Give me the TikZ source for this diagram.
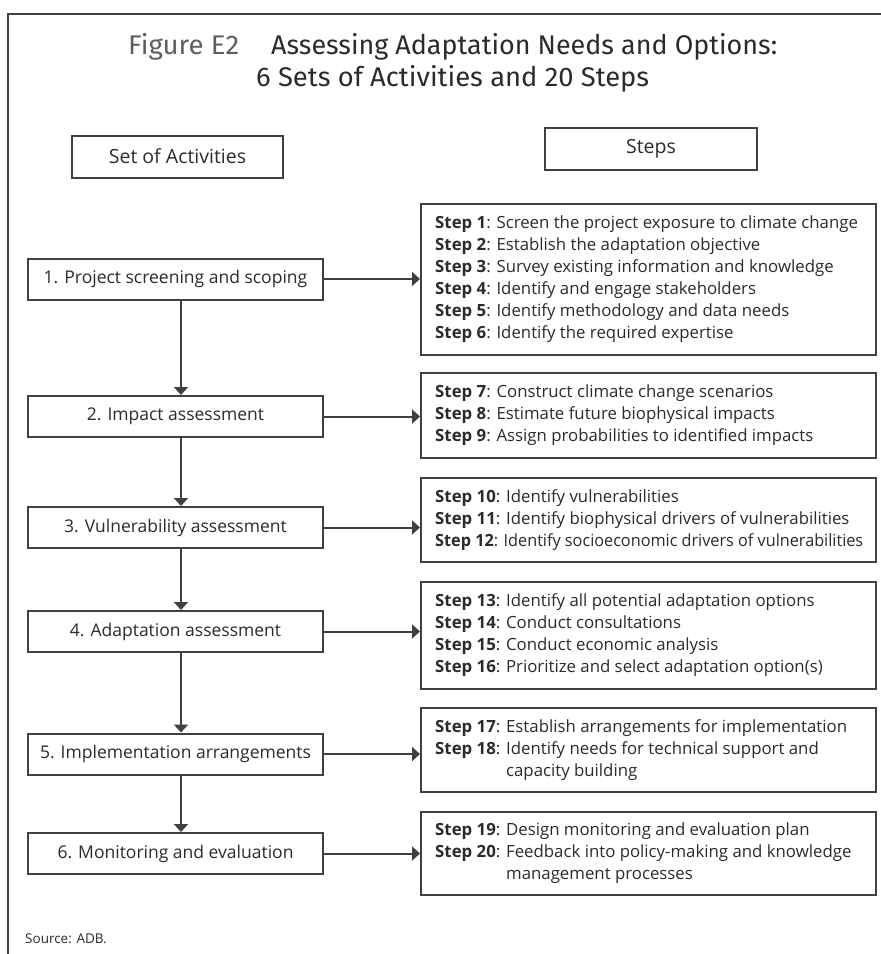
\documentclass[tikz,border=0pt]{standalone}
\usepackage{fontspec}
\usepackage{graphicx}
\setmainfont{Open Sans}
\newfontfamily\titlefont{Fira Sans}
\usetikzlibrary{arrows.meta}
\definecolor{ink}{HTML}{2B2B2B}
\definecolor{rulecol}{HTML}{404040}
\definecolor{figgray}{HTML}{5E5E5E}

\newcommand{\stp}[1]{\textbf{Step #1}:}

\begin{document}
\begin{tikzpicture}[x=1pt,y=-1pt,
  actbox/.style={draw=rulecol, line width=2pt, minimum width=295pt, minimum height=41pt,
    inner sep=0pt, text=ink, font=\fontsize{17.5}{22}\selectfont},
  headbox/.style={draw=rulecol, line width=2pt, minimum width=211pt, minimum height=42pt,
    inner sep=0pt, text=ink, font=\fontsize{19.5}{22}\selectfont},
  stepbox/.style={draw=rulecol, line width=2pt, minimum width=455pt, inner sep=0pt},
  steptext/.style={anchor=west, align=left, inner sep=0pt, text=ink,
    font=\fontsize{16.8}{22}\selectfont},
  flow/.style={draw=rulecol, line width=2pt, -{Triangle[length=8pt,width=14pt]}},
]
\useasboundingbox (0,0) rectangle (881,954);
\fill[white] (0,0) rectangle (881,954);

% outer frame (top and left rules)
\draw[rulecol, line width=2pt] (8,954) -- (8,14) -- (881,14);

% title
\node[anchor=base west, inner sep=0pt, text=figgray] (fig) at (128,54)
  {\resizebox{111pt}{\height}{\titlefont\fontsize{27}{30}\selectfont Figure E2}};
\node[anchor=base west, inner sep=0pt, text=ink] (title1) at (271,54)
  {\resizebox{506pt}{\height}{\titlefont\fontsize{27}{30}\selectfont Assessing Adaptation Needs and Options:}};
\node[anchor=base west, inner sep=0pt, text=ink] (title2) at (256,86)
  {\resizebox{393pt}{\height}{\titlefont\fontsize{27}{30}\selectfont 6 Sets of Activities and 20 Steps}};

% column headers
\node[headbox] (hact) at (177.5,156.5) {Set of Activities};
\node[headbox, minimum width=212pt] (hstep) at (651,148.5) {Steps};

% sets of activities
\node[actbox] (a1) at (175.5,279) {1. Project screening and scoping};
\node[actbox] (a2) at (175.5,416.5) {2. Impact assessment};
\node[actbox] (a3) at (175.5,527.5) {3. Vulnerability assessment};
\node[actbox] (a4) at (175.5,631.5) {4. Adaptation assessment};
\node[actbox] (a5) at (175.5,754) {5. Implementation arrangements};
\node[actbox] (a6) at (175.5,853.5) {6. Monitoring and evaluation};

% step boxes
\node[stepbox, minimum height=151pt] (s1) at (648.5,279.5) {};
\node[stepbox, minimum height=85pt] (s2) at (648.5,415.5) {};
\node[stepbox, minimum height=84pt] (s3) at (648.5,520) {};
\node[stepbox, minimum height=107pt] (s4) at (648.5,635.5) {};
\node[stepbox, minimum height=84pt] (s5) at (648.5,750) {};
\node[stepbox, minimum height=83pt] (s6) at (648.5,853.5) {};

\node[steptext] (t1) at ([xshift=15pt]s1.west) {%
  \stp{1} Screen the project exposure to climate change\\
  \stp{2} Establish the adaptation objective\\
  \stp{3} Survey existing information and knowledge\\
  \stp{4} Identify and engage stakeholders\\
  \stp{5} Identify methodology and data needs\\
  \stp{6} Identify the required expertise};
\node[steptext] (t2) at ([xshift=15pt]s2.west) {%
  \stp{7} Construct climate change scenarios\\
  \stp{8} Estimate future biophysical impacts\\
  \stp{9} Assign probabilities to identified impacts};
\node[steptext] (t3) at ([xshift=15pt]s3.west) {%
  \stp{10} Identify vulnerabilities\\
  \stp{11} Identify biophysical drivers of vulnerabilities\\
  \resizebox{428pt}{\height}{\stp{12} Identify socioeconomic drivers of vulnerabilities}};
\node[steptext] (t4) at ([xshift=15pt]s4.west) {%
  \stp{13} Identify all potential adaptation options\\
  \stp{14} Conduct consultations\\
  \stp{15} Conduct economic analysis\\
  \stp{16} Prioritize and select adaptation option(s)};
\node[steptext] (t5) at ([xshift=15pt]s5.west) {%
  \stp{17} Establish arrangements for implementation\\
  \stp{18} Identify needs for technical support and\\
  \hphantom{\stp{18} }capacity building};
\node[steptext] (t6) at ([xshift=15pt]s6.west) {%
  \stp{19} Design monitoring and evaluation plan\\
  \stp{20} Feedback into policy-making and knowledge\\
  \hphantom{\stp{20} }management processes};

% connectors
\coordinate (spine) at (181,0);
\foreach \u/\v in {a1/a2,a2/a3,a3/a4,a4/a5,a5/a6}
  \draw[flow] (\u.south -| spine) -- (\v.north -| spine);
\foreach \i in {1,...,6}
  \draw[flow] (a\i.east) -- (a\i.east -| s\i.west);

% source note
\node[anchor=base west, inner sep=0pt, text=ink, font=\fontsize{13.5}{16}\selectfont] (src) at (25,943) {Source: ADB.};
\end{tikzpicture}
\end{document}
